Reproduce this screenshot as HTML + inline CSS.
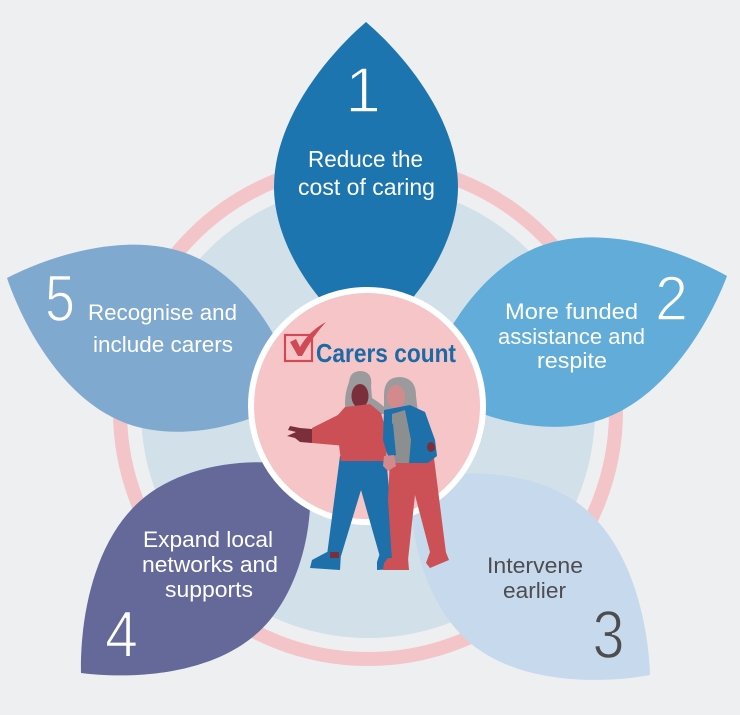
<!DOCTYPE html>
<html>
<head>
<meta charset="utf-8">
<style>
html,body{margin:0;padding:0;background:#eeeff1;width:740px;height:715px;overflow:hidden;}
svg{display:block;}
text{font-family:"Liberation Sans",Arial,sans-serif;}
</style>
</head>
<body>
<svg width="740" height="715" viewBox="0 0 740 715" xmlns="http://www.w3.org/2000/svg">
  <rect width="740" height="715" fill="#eeeff1"/>
  <!-- outer ring and disk -->
  <circle cx="368" cy="411" r="248" fill="none" stroke="#f3c5c8" stroke-width="14"/>
  <circle cx="368" cy="411" r="227" fill="#d1e0e9"/>

  <!-- leaves -->
  <path transform="translate(366,22)" fill="#1c75ae" d="M0,0 C-35,30 -92,95 -92,165 C-92,225 -45,290 0,318 C45,290 92,225 92,165 C92,95 35,30 0,0 Z"/>
  <path transform="translate(727,276) rotate(70)" fill="#62acda" d="M0,0 C-35,30 -92,95 -92,165 C-92,225 -45,290 0,318 C45,290 92,225 92,165 C92,95 35,30 0,0 Z"/>
  <path transform="translate(650,675) rotate(129) scale(0.96)" fill="#c7d9ec" d="M0,0 C-35,30 -92,95 -92,165 C-92,225 -45,290 0,318 C45,290 92,225 92,165 C92,95 35,30 0,0 Z"/>
  <path transform="translate(81,673) rotate(-132) scale(0.96)" fill="#65699a" d="M0,0 C-35,30 -92,95 -92,165 C-92,225 -45,290 0,318 C45,290 92,225 92,165 C92,95 35,30 0,0 Z"/>
  <path transform="translate(7,278) rotate(-68) scale(0.98)" fill="#80a9cf" d="M0,0 C-35,30 -92,95 -92,165 C-92,225 -45,290 0,318 C45,290 92,225 92,165 C92,95 35,30 0,0 Z"/>

  <!-- center circle -->
  <circle cx="367" cy="406" r="116" fill="#f5c5c8" stroke="#ffffff" stroke-width="6"/>

  <!-- logo -->
  <rect x="285" y="335" width="27" height="26" fill="none" stroke="#d04a55" stroke-width="2.2"/>
  <path d="M290,342 L296,339 L300,347 Q309,331 326,322 Q313,336 302,356 L298,356 Z" fill="#d04a55"/>
  <text x="386" y="362" font-size="26" font-weight="bold" fill="#1b6aa5" text-anchor="middle" textLength="140" lengthAdjust="spacingAndGlyphs">Carers count</text>

  <!-- left woman -->
  <path d="M349,382 Q350,371 361,371 Q373,372 371,386 L372,398 Q382,404 392,414 L372,414 Q358,411 346,413 Q343,398 349,382 Z" fill="#9b9b9d"/>
  <ellipse cx="360" cy="396" rx="8.5" ry="12" fill="#7b2f3a"/>
  <path d="M340,456 L386,456 L395,556 L380,557 L361,490 L341,556 L327,555 Z" fill="#1d70a9"/>
  <path d="M327,552 L341,553 L340,570 L310,568 L312,560 Z" fill="#1d70a9"/>
  <rect x="330" y="552" width="9" height="6" fill="#7b2f3a"/>
  <path d="M380,553 L395,553 L397,569 L377,570 L377,562 Z" fill="#1d70a9"/>
  <path d="M345,407 L370,404 L381,413 L388,437 L386,461 L341,461 L338,437 L337,416 Z" fill="#cc4f56"/>
  <path d="M340,414 L312,428 L312,443 L346,446 Z" fill="#cc4f56"/>
  <path d="M312,429 L300,428 L290,426 L288,430 L296,432 L287,436 L295,438 L300,442 L312,443 Z" fill="#7b2f3a"/>

  <!-- right woman -->
  <path d="M384,395 Q384,377 400,377 Q416,378 416,396 L418,413 L384,413 Z" fill="#9b9b9d"/>
  <ellipse cx="396" cy="397" rx="9" ry="12" fill="#d38a8d"/>
  <path d="M390,458 L434,458 L446,553 L431,556 L415,495 L408,560 L392,560 L388,500 Z" fill="#cc5157"/>
  <path d="M388,558 L408,558 L409,570 L383,570 L384,563 Z" fill="#cc5157"/>
  <path d="M430,552 L445,550 L449,560 L430,568 L426,563 Z" fill="#cc5157"/>
  <path d="M384,410 L410,405 L425,412 L435,440 L437,456 L428,463 L390,463 L383,440 Z" fill="#1d70a9"/>
  <path d="M392,414 L405,410 L411,440 L409,463 L392,463 Z" fill="#8d8e90"/>
  <path d="M384,418 L393,424 L396,455 L388,458 Z" fill="#1d70a9"/>
  <path d="M384,456 L394,455 L396,466 L388,471 L383,466 Z" fill="#d38a8d"/>
  <ellipse cx="431" cy="447" rx="4" ry="5" fill="#7b2f3a"/>

  <!-- leaf 1 text -->
  <text x="363" y="112" font-size="64" fill="#ffffff" stroke="#1c75ae" stroke-width="1.5" text-anchor="middle">1</text>
  <text x="365.5" y="167" font-size="23" fill="#ffffff" text-anchor="middle" textLength="115" lengthAdjust="spacingAndGlyphs">Reduce the</text>
  <text x="366.5" y="195" font-size="23" fill="#ffffff" text-anchor="middle" textLength="137" lengthAdjust="spacingAndGlyphs">cost of caring</text>

  <!-- leaf 2 text -->
  <text x="671.5" y="320" font-size="63" fill="#ffffff" stroke="#62acda" stroke-width="1.5" text-anchor="middle" textLength="33" lengthAdjust="spacingAndGlyphs">2</text>
  <text x="571.5" y="319" font-size="22" fill="#ffffff" text-anchor="middle" textLength="133" lengthAdjust="spacingAndGlyphs">More funded</text>
  <text x="571.5" y="344" font-size="22" fill="#ffffff" text-anchor="middle" textLength="147" lengthAdjust="spacingAndGlyphs">assistance and</text>
  <text x="572" y="368" font-size="22" fill="#ffffff" text-anchor="middle" textLength="70" lengthAdjust="spacingAndGlyphs">respite</text>

  <!-- leaf 3 text -->
  <text x="608.5" y="658" font-size="68" fill="#4d4d4f" stroke="#c7d9ec" stroke-width="1.5" text-anchor="middle" textLength="32" lengthAdjust="spacingAndGlyphs">3</text>
  <text x="535" y="573" font-size="22" fill="#4d4d4f" text-anchor="middle" textLength="96" lengthAdjust="spacingAndGlyphs">Intervene</text>
  <text x="534.5" y="598" font-size="22" fill="#4d4d4f" text-anchor="middle" textLength="63" lengthAdjust="spacingAndGlyphs">earlier</text>

  <!-- leaf 4 text -->
  <text x="121.5" y="657" font-size="66" fill="#ffffff" stroke="#65699a" stroke-width="1.5" text-anchor="middle" textLength="33" lengthAdjust="spacingAndGlyphs">4</text>
  <text x="208" y="547" font-size="22" fill="#ffffff" text-anchor="middle" textLength="130" lengthAdjust="spacingAndGlyphs">Expand local</text>
  <text x="210" y="572" font-size="22" fill="#ffffff" text-anchor="middle" textLength="136" lengthAdjust="spacingAndGlyphs">networks and</text>
  <text x="209" y="597" font-size="22" fill="#ffffff" text-anchor="middle" textLength="88" lengthAdjust="spacingAndGlyphs">supports</text>

  <!-- leaf 5 text -->
  <text x="60" y="321" font-size="66" fill="#ffffff" stroke="#80a9cf" stroke-width="1.5" text-anchor="middle" textLength="30" lengthAdjust="spacingAndGlyphs">5</text>
  <text x="162.5" y="320" font-size="22" fill="#ffffff" text-anchor="middle" textLength="149" lengthAdjust="spacingAndGlyphs">Recognise and</text>
  <text x="163" y="352" font-size="22" fill="#ffffff" text-anchor="middle" textLength="140" lengthAdjust="spacingAndGlyphs">include carers</text>
</svg>
</body>
</html>
